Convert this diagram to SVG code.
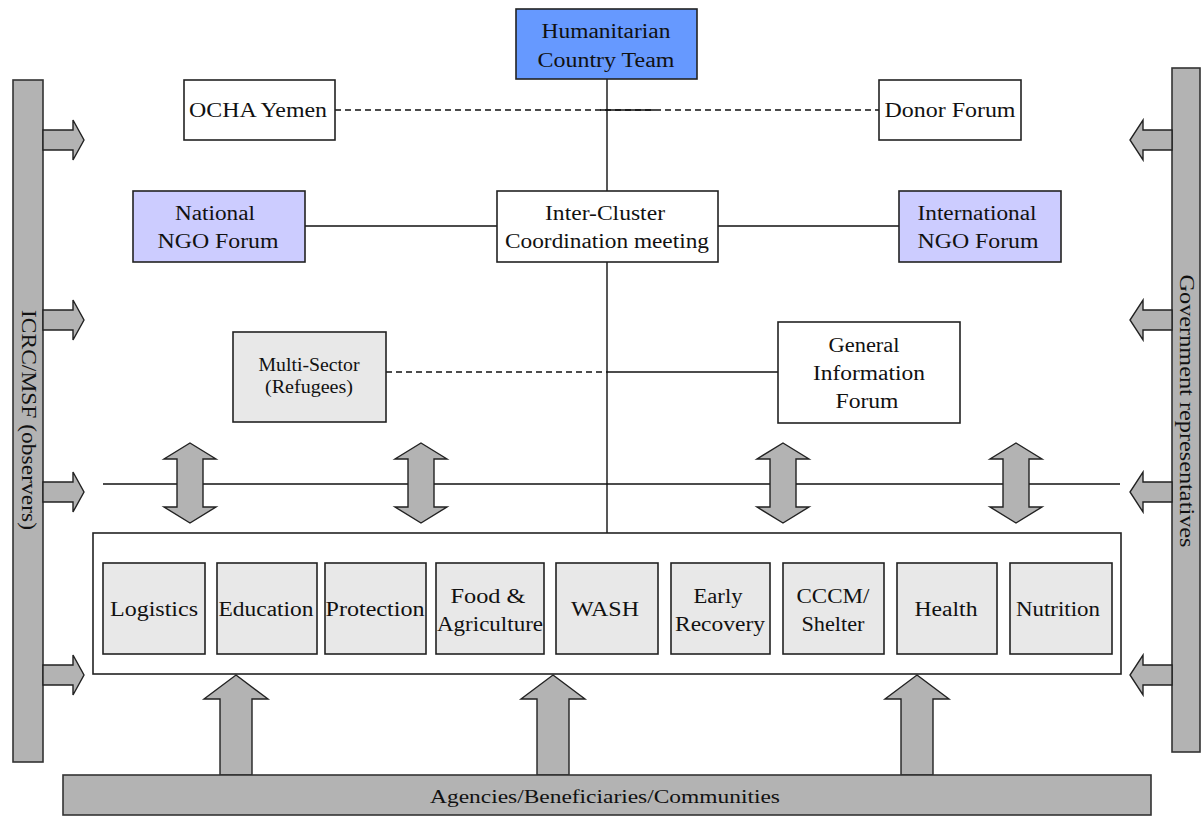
<svg xmlns="http://www.w3.org/2000/svg" width="1202" height="816" viewBox="0 0 1202 816">
<style>
text{font-family:"Liberation Serif","Times New Roman",serif;font-size:20px;fill:#111;text-anchor:middle}
.sm{font-size:18px}
.box{stroke:#222;stroke-width:1.6}
.w{fill:#fff}
.g{fill:#e8e8e8}
.blue{fill:#6699ff}
.lav{fill:#ccccff}
.bar{fill:#b3b3b3;stroke:#333;stroke-width:1.6}
.arr{fill:#b3b3b3;stroke:#222;stroke-width:1.4;stroke-linejoin:miter}
.ln{stroke:#111;stroke-width:1.4;fill:none}
.dash{stroke-dasharray:6,4}
</style>

<g id="connectors">
<line class="ln dash" x1="335" y1="110" x2="879" y2="110"/>
<line class="ln" x1="600" y1="110" x2="655" y2="110"/>
<line class="ln" x1="607" y1="79" x2="607" y2="533"/>
<line class="ln" x1="305" y1="226" x2="497" y2="226"/>
<line class="ln" x1="718" y1="226" x2="899" y2="226"/>
<line class="ln dash" x1="386" y1="372" x2="607" y2="372"/>
<line class="ln" x1="607" y1="372" x2="778" y2="372"/>
<line class="ln" x1="103" y1="484" x2="1120" y2="484"/>
</g>

<g id="left-bar">
<rect class="bar" x="13" y="80" width="30" height="682"/>
<text transform="translate(28,420) rotate(90)" y="6" textLength="220" lengthAdjust="spacingAndGlyphs">ICRC/MSF (observers)</text>
</g>
<g id="left-arrows">
<polygon class="arr" points="43,130 73,130 73,120 84,140 73,160 73,150 43,150"/>
<polygon class="arr" points="43,310 73,310 73,300 84,320 73,340 73,330 43,330"/>
<polygon class="arr" points="43,482 73,482 73,472 84,492 73,512 73,502 43,502"/>
<polygon class="arr" points="43,665 73,665 73,655 84,675 73,695 73,685 43,685"/>
</g>

<g id="right-bar">
<rect class="bar" x="1172" y="68" width="28" height="684"/>
<text transform="translate(1186,411) rotate(90)" y="6" textLength="273" lengthAdjust="spacingAndGlyphs">Government representatives</text>
</g>
<g id="right-arrows">
<polygon class="arr" points="1172,130 1143,130 1143,120 1130,140 1143,160 1143,150 1172,150"/>
<polygon class="arr" points="1172,310 1143,310 1143,300 1130,320 1143,340 1143,330 1172,330"/>
<polygon class="arr" points="1172,482 1143,482 1143,472 1130,492 1143,512 1143,502 1172,502"/>
<polygon class="arr" points="1172,665 1143,665 1143,655 1130,675 1143,695 1143,685 1172,685"/>
</g>

<g id="hct">
<rect class="box blue" x="516" y="9" width="181" height="70"/>
<text x="606" y="38" textLength="129" lengthAdjust="spacingAndGlyphs">Humanitarian</text>
<text x="606" y="67" textLength="137" lengthAdjust="spacingAndGlyphs">Country Team</text>
</g>
<g id="ocha">
<rect class="box w" x="184" y="80" width="151" height="60"/>
<text x="258" y="117" textLength="138" lengthAdjust="spacingAndGlyphs">OCHA Yemen</text>
</g>
<g id="donor">
<rect class="box w" x="879" y="80" width="142" height="60"/>
<text x="950" y="117" textLength="131" lengthAdjust="spacingAndGlyphs">Donor Forum</text>
</g>
<g id="national-ngo">
<rect class="box lav" x="133" y="191" width="172" height="71"/>
<text x="215" y="220" textLength="80" lengthAdjust="spacingAndGlyphs">National</text>
<text x="218" y="248" textLength="121" lengthAdjust="spacingAndGlyphs">NGO Forum</text>
</g>
<g id="icc">
<rect class="box w" x="497" y="191" width="221" height="71"/>
<text x="605" y="220" textLength="120" lengthAdjust="spacingAndGlyphs">Inter-Cluster</text>
<text x="607" y="248" textLength="204" lengthAdjust="spacingAndGlyphs">Coordination meeting</text>
</g>
<g id="international-ngo">
<rect class="box lav" x="899" y="191" width="162" height="71"/>
<text x="977" y="220" textLength="119" lengthAdjust="spacingAndGlyphs">International</text>
<text x="978" y="248" textLength="121" lengthAdjust="spacingAndGlyphs">NGO Forum</text>
</g>
<g id="multi-sector">
<rect class="box g" x="233" y="332" width="153" height="90"/>
<text class="sm" x="309" y="371" textLength="101" lengthAdjust="spacingAndGlyphs">Multi-Sector</text>
<text class="sm" x="309" y="393" textLength="88" lengthAdjust="spacingAndGlyphs">(Refugees)</text>
</g>
<g id="general-info">
<rect class="box w" x="778" y="322" width="182" height="101"/>
<text x="864" y="352" textLength="71" lengthAdjust="spacingAndGlyphs">General</text>
<text x="869" y="380" textLength="112" lengthAdjust="spacingAndGlyphs">Information</text>
<text x="867" y="408" textLength="63" lengthAdjust="spacingAndGlyphs">Forum</text>
</g>

<g id="double-arrows">
<polygon class="arr" points="190,443 216,459 203,459 203,507 216,507 190,523 164,507 177,507 177,459 164,459"/>
<polygon class="arr" points="421,443 447,459 434,459 434,507 447,507 421,523 395,507 408,507 408,459 395,459"/>
<polygon class="arr" points="783,443 809,459 796,459 796,507 809,507 783,523 757,507 770,507 770,459 757,459"/>
<polygon class="arr" points="1016,443 1042,459 1029,459 1029,507 1042,507 1016,523 990,507 1003,507 1003,459 990,459"/>
</g>

<g id="clusters">
<rect class="box w" x="93" y="533" width="1028" height="141"/>
<g id="logistics"><rect class="box g" x="103" y="563" width="102" height="91"/><text x="154" y="616" textLength="88" lengthAdjust="spacingAndGlyphs">Logistics</text></g>
<g id="education"><rect class="box g" x="217" y="563" width="100" height="91"/><text x="266" y="616" textLength="95" lengthAdjust="spacingAndGlyphs">Education</text></g>
<g id="protection"><rect class="box g" x="325" y="563" width="101" height="91"/><text x="375" y="616" textLength="99" lengthAdjust="spacingAndGlyphs">Protection</text></g>
<g id="food"><rect class="box g" x="436" y="563" width="108" height="91"/><text x="488" y="603" textLength="75" lengthAdjust="spacingAndGlyphs">Food &amp;</text><text x="490" y="631" textLength="106" lengthAdjust="spacingAndGlyphs">Agriculture</text></g>
<g id="wash"><rect class="box g" x="556" y="563" width="102" height="91"/><text x="605" y="616" textLength="68" lengthAdjust="spacingAndGlyphs">WASH</text></g>
<g id="early-recovery"><rect class="box g" x="671" y="563" width="99" height="91"/><text x="718" y="603" textLength="49" lengthAdjust="spacingAndGlyphs">Early</text><text x="720" y="631" textLength="90" lengthAdjust="spacingAndGlyphs">Recovery</text></g>
<g id="cccm"><rect class="box g" x="783" y="563" width="101" height="91"/><text x="833" y="603" textLength="73" lengthAdjust="spacingAndGlyphs">CCCM/</text><text x="833" y="631" textLength="63" lengthAdjust="spacingAndGlyphs">Shelter</text></g>
<g id="health"><rect class="box g" x="897" y="563" width="100" height="91"/><text x="946" y="616" textLength="63" lengthAdjust="spacingAndGlyphs">Health</text></g>
<g id="nutrition"><rect class="box g" x="1010" y="563" width="102" height="91"/><text x="1058" y="616" textLength="84" lengthAdjust="spacingAndGlyphs">Nutrition</text></g>
</g>

<g id="up-arrows">
<polygon class="arr" points="236,675 268,699 252,699 252,775 220,775 220,699 204,699"/>
<polygon class="arr" points="553,675 585,699 569,699 569,775 537,775 537,699 521,699"/>
<polygon class="arr" points="917,675 949,699 933,699 933,775 901,775 901,699 885,699"/>
</g>

<g id="agencies">
<rect class="bar" x="63" y="775" width="1088" height="40"/>
<text class="sm" x="605" y="803" textLength="350" lengthAdjust="spacingAndGlyphs">Agencies/Beneficiaries/Communities</text>
</g>
</svg>
